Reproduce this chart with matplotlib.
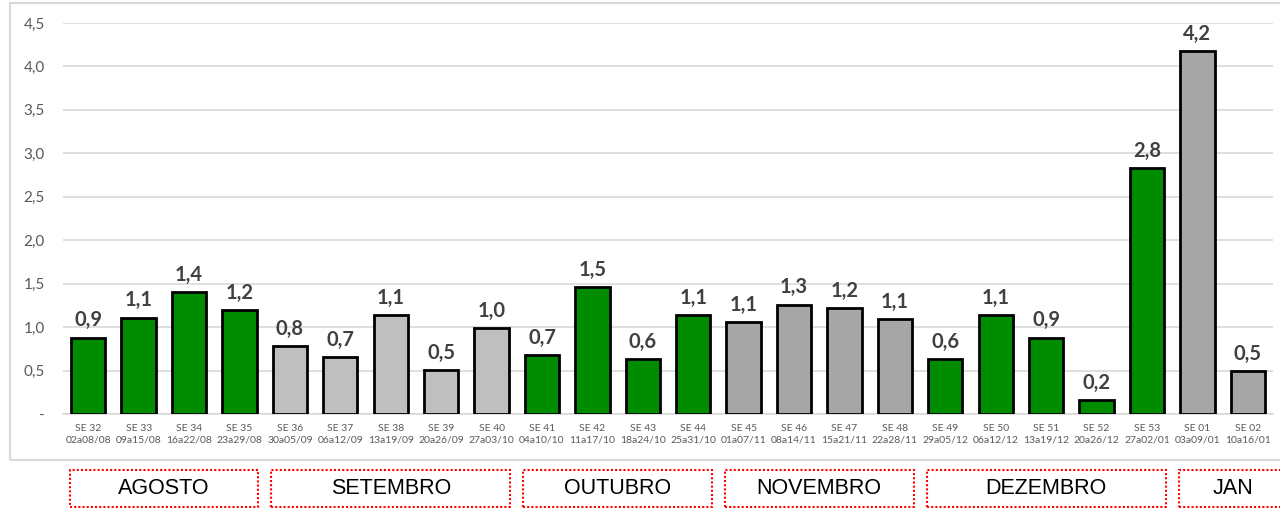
import numpy as np
import matplotlib.pyplot as plt
from matplotlib.patches import Rectangle
from matplotlib.ticker import FuncFormatter
import matplotlib.transforms as mtransforms

# semanas epidemiologicas
weeks = ['SE 32', 'SE 33', 'SE 34', 'SE 35', 'SE 36', 'SE 37', 'SE 38', 'SE 39',
         'SE 40', 'SE 41', 'SE 42', 'SE 43', 'SE 44', 'SE 45', 'SE 46', 'SE 47',
         'SE 48', 'SE 49', 'SE 50', 'SE 51', 'SE 52', 'SE 53', 'SE 01', 'SE 02']
periods = ['02a08/08', '09a15/08', '16a22/08', '23a29/08', '30a05/09', '06a12/09',
           '13a19/09', '20a26/09', '27a03/10', '04a10/10', '11a17/10', '18a24/10',
           '25a31/10', '01a07/11', '08a14/11', '15a21/11', '22a28/11', '29a05/12',
           '06a12/12', '13a19/12', '20a26/12', '27a02/01', '03a09/01', '10a16/01']
values = [0.88, 1.11, 1.40, 1.20, 0.78, 0.66, 1.14, 0.51, 0.99, 0.68, 1.46, 0.63,
          1.14, 1.06, 1.26, 1.22, 1.09, 0.63, 1.14, 0.88, 0.16, 2.83, 4.18, 0.49]
bar_colors = ['#008C00'] * 4 + ['#BFBFBF'] * 5 + ['#008C00'] * 4 + ['#A6A6A6'] * 4 \
    + ['#008C00'] * 5 + ['#A6A6A6'] * 2

months = ['AGOSTO', 'SETEMBRO', 'OUTUBRO', 'NOVEMBRO', 'DEZEMBRO', 'JAN']
month_counts = [4, 5, 4, 4, 5, 2]

fig = plt.figure(figsize=(12.8, 5.08), dpi=100)

# outer chart frame
fig.patches.append(Rectangle((10 / 1280, 48 / 508), 1.2, 457 / 508,
                             transform=fig.transFigure, fill=False,
                             edgecolor='#D9D9D9', linewidth=1.5))

ax = fig.add_axes([63 / 1280, 94 / 508, 1210 / 1280, 391 / 508])
x = np.arange(len(values))
bars = ax.bar(x, values, width=0.68, color=bar_colors, edgecolor='black',
              linewidth=2, zorder=3)

for xi, v in zip(x, values):
    ax.annotate(f"{v:.1f}".replace('.', ','), (xi, v), xytext=(0, 8),
                textcoords='offset points', ha='center', va='baseline',
                fontsize=14.5, fontweight='bold', color='#404040',
                family='Lato', clip_on=False)

ax.set_xlim(-0.5, len(values) - 0.5)
ax.set_ylim(0, 4.5)
ax.set_yticks(np.arange(0, 4.51, 0.5))
ax.yaxis.set_major_formatter(FuncFormatter(
    lambda v, p: '-' if v == 0 else f"{v:.1f}".replace('.', ',')))
ax.set_xticks(x)
ax.set_xticklabels([f"{w}\n{p}" for w, p in zip(weeks, periods)],
                   fontsize=7.5, color='#595959', family='Lato', linespacing=1.4)
ax.tick_params(axis='x', length=0, pad=7)
ax.tick_params(axis='y', length=0, pad=13, labelsize=11, labelcolor='#595959')
for lbl in ax.get_yticklabels():
    lbl.set_family('Lato')

ax.grid(axis='y', color='#D9D9D9', linewidth=1.2, zorder=0)
for s in ['top', 'right', 'left']:
    ax.spines[s].set_visible(False)
ax.spines['bottom'].set_color('#D9D9D9')
ax.spines['bottom'].set_linewidth(1.2)

# month boxes below the chart
trans = mtransforms.blended_transform_factory(ax.transData, fig.transFigure)
start = 0
for name, n in zip(months, month_counts):
    left = start - 0.37
    right = start + n - 1 + 0.37
    if name == 'JAN':
        right += 0.4
    ax.add_patch(Rectangle((left, 1 / 508), right - left, 37 / 508, transform=trans,
                           fill=False, edgecolor='red', linestyle=(0, (1, 1)),
                           linewidth=1.5, clip_on=False))
    ax.text((left + right) / 2, 19 / 508, name, transform=trans, ha='center',
            va='center', fontsize=15.5, family='Liberation Sans', color='black')
    start += n

fig.savefig('out.png', dpi=100)
